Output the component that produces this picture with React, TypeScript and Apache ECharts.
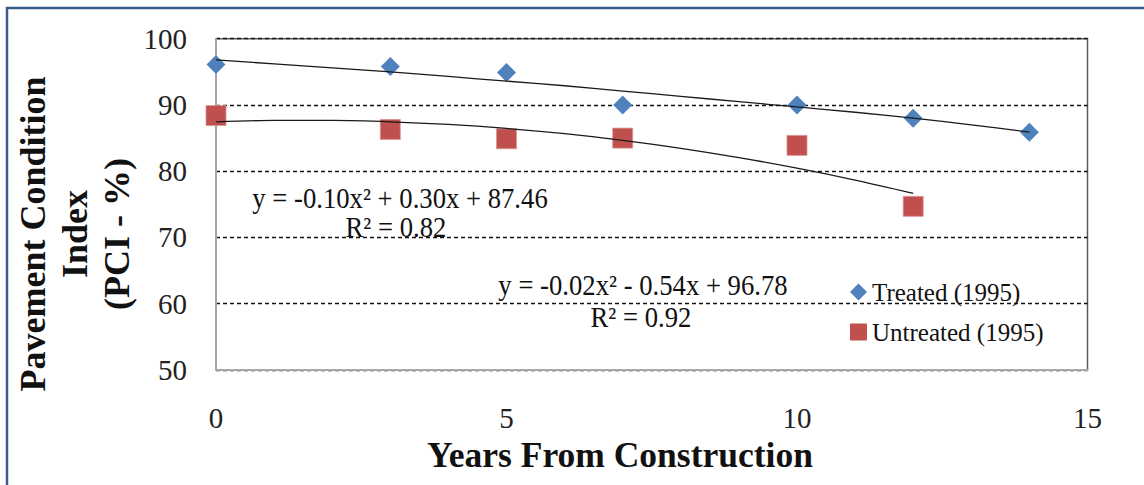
import React, { useEffect, useRef } from "react";
import * as echarts from "echarts";

const treatedYears = [0, 3, 5, 7, 10, 12, 14];
const treatedPCI = [96.1, 95.8, 94.9, 90.0, 90.0, 88.0, 85.9];
const untreatedYears = [0, 3, 5, 7, 10, 12];
const untreatedPCI = [88.4, 86.3, 84.9, 85.0, 83.9, 74.7];

const treatedTrendYears = [0, 1, 2, 3, 4, 5, 6, 7, 8, 9, 10, 11, 12, 13, 14];
const treatedTrendPCI = [96.8, 96.2, 95.6, 95.0, 94.3, 93.6, 92.9, 92.1, 91.3, 90.5, 89.7, 88.9, 88.0, 87.0, 85.9];
const untreatedTrendYears = [0, 1, 2, 3, 4, 5, 6, 7, 8, 9, 10, 11, 12];
const untreatedTrendPCI = [87.46, 87.66, 87.66, 87.46, 87.06, 86.46, 85.66, 84.66, 83.46, 82.06, 80.46, 78.66, 76.66];

const seriesNames = ["Treated (1995)", "Untreated (1995)"];
const untreatedEquation = ["y = -0.10x² + 0.30x + 87.46", "R² = 0.82"];
const treatedEquation = ["y = -0.02x² - 0.54x + 96.78", "R² = 0.92"];
const xTitle = "Years From Construction";
const yTitle = ["Pavement Condition", "Index", "(PCI - %)"];

const SERIF = "'Liberation Serif', 'Times New Roman', serif";

const pairs = (xs: number[], ys: number[]) => xs.map((x, i) => [x, ys[i]]);

function eqText(text: string, x: number, y: number) {
  return {
    type: "text",
    x,
    y,
    scaleX: 0.92,
    z: 100,
    style: {
      text,
      fontFamily: SERIF,
      fontSize: 29,
      fill: "#111",
      align: "center",
      verticalAlign: "middle",
      textAlign: "center",
      textVerticalAlign: "middle",
    },
  };
}

export default function App() {
  const ref = useRef<HTMLDivElement>(null);
  useEffect(() => {
    if (!ref.current) return;
    const chart = echarts.init(ref.current, null, { renderer: "svg" });
    chart.setOption({
      animation: false,
      backgroundColor: "#ffffff",
      grid: {
        left: 216,
        top: 38.7,
        right: 56.5,
        bottom: 115,
        show: true,
        borderColor: "#5a5a5a",
        borderWidth: 1.5,
        backgroundColor: "transparent",
      },
      legend: {
        orient: "vertical",
        left: 845,
        top: 273,
        itemWidth: 17,
        itemHeight: 17,
        itemGap: 12,
        data: [
          {
            name: seriesNames[0],
            icon: "path://M9,0L18,9L9,18L0,9Z",
            itemStyle: { color: "#4F81BD" },
          },
          {
            name: seriesNames[1],
            icon: "rect",
            itemStyle: { color: "#C0504D", borderWidth: 0 },
          },
        ],
        textStyle: { fontFamily: SERIF, fontSize: 25, color: "#111", lineHeight: 28 },
      },
      xAxis: {
        type: "value",
        min: 0,
        max: 15,
        interval: 5,
        axisLine: { show: true, lineStyle: { color: "#a6a6a6", width: 2 } },
        axisTick: { show: false },
        splitLine: { show: false },
        axisLabel: { fontFamily: SERIF, fontSize: 29, color: "#222", margin: 33 },
      },
      yAxis: {
        type: "value",
        min: 50,
        max: 100,
        interval: 10,
        axisLine: { show: true, lineStyle: { color: "#a6a6a6", width: 2 } },
        axisTick: { show: false },
        splitLine: { show: true, lineStyle: { color: "#111", type: [4, 3], width: 1.3 } },
        axisLabel: { fontFamily: SERIF, fontSize: 29, color: "#222", margin: 29 },
      },
      series: [
        {
          name: "Treated trend",
          type: "line",
          data: pairs(treatedTrendYears, treatedTrendPCI),
          showSymbol: false,
          smooth: 0.3,
          lineStyle: { color: "#1a1a1a", width: 1.3 },
          z: 3,
          silent: true,
        },
        {
          name: "Untreated trend",
          type: "line",
          data: pairs(untreatedTrendYears, untreatedTrendPCI),
          showSymbol: false,
          smooth: 0.3,
          lineStyle: { color: "#1a1a1a", width: 1.3 },
          z: 3,
          silent: true,
        },
        {
          name: seriesNames[0],
          type: "scatter",
          symbol: "diamond",
          symbolSize: 19,
          data: pairs(treatedYears, treatedPCI),
          itemStyle: { color: "#4F81BD", opacity: 1 },
          z: 2,
        },
        {
          name: seriesNames[1],
          type: "scatter",
          symbol: "rect",
          symbolSize: 20,
          data: pairs(untreatedYears, untreatedPCI),
          itemStyle: { color: "#C0504D", borderColor: "#d99694", borderWidth: 0.8, opacity: 1 },
          z: 2,
        },
      ],
      graphic: [
        {
          type: "rect",
          shape: { x: 7, y: 8, width: 1200, height: 600 },
          style: { fill: "none", stroke: "#385D8A", lineWidth: 2.5 },
          z: 0,
          silent: true,
        },
        eqText(untreatedEquation[0], 400, 198),
        eqText(untreatedEquation[1], 396, 227),
        eqText(treatedEquation[0], 643, 285),
        eqText(treatedEquation[1], 641, 317),
        {
          type: "text",
          x: 620,
          y: 455,
          style: {
            text: xTitle,
            fontFamily: SERIF,
            fontSize: 35.5,
            fontWeight: "bold",
            fill: "#111",
            align: "center",
            verticalAlign: "middle",
            textAlign: "center",
            textVerticalAlign: "middle",
          },
        },
        {
          type: "text",
          x: 75,
          y: 234,
          rotation: Math.PI / 2,
          style: {
            text: yTitle.join("\n"),
            fontFamily: SERIF,
            fontSize: 36,
            fontWeight: "bold",
            lineHeight: 42,
            fill: "#111",
            align: "center",
            verticalAlign: "middle",
            textAlign: "center",
            textVerticalAlign: "middle",
          },
        },
      ],
    });
    return () => chart.dispose();
  }, []);
  return (
    <div
      ref={ref}
      style={{ position: "absolute", left: 0, top: 0, width: 1144, height: 485 }}
    />
  );
}
